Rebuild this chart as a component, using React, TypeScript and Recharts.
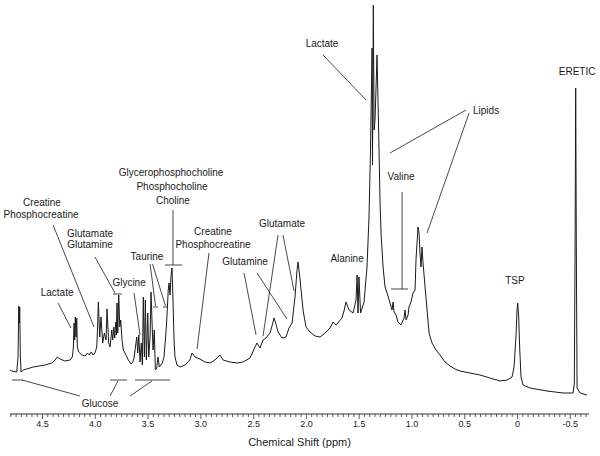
import React from 'react';
import { LineChart, Line, XAxis, YAxis, ReferenceLine, ReferenceDot } from 'recharts';

// Spectrum: [chemical shift (ppm), intensity (a.u.)]
const REGION_WATER_SUGARS: [number, number][] = [
  [4.827, 45], [4.792, 43], [4.744, 42], [4.732, 57], [4.725, 108], [4.72, 91], [4.716, 107], [4.71, 57],
  [4.703, 42], [4.682, 44], [4.587, 47], [4.476, 49], [4.413, 51], [4.381, 54], [4.36, 57], [4.334, 55],
  [4.287, 53], [4.239, 54], [4.218, 57], [4.208, 66], [4.201, 91], [4.195, 74], [4.189, 97], [4.182, 77],
  [4.176, 96], [4.17, 67], [4.157, 62], [4.128, 59], [4.097, 58], [4.075, 61], [4.056, 59], [4.04, 62],
  [4.019, 59], [4.003, 61],
];

const REGION_CREATINE_CHOLINE: [number, number][] = [
  [3.986, 67], [3.977, 91], [3.971, 112], [3.958, 77], [3.946, 97], [3.93, 71], [3.914, 81], [3.898, 74],
  [3.889, 105], [3.873, 71], [3.86, 67], [3.844, 84], [3.835, 74], [3.825, 87], [3.816, 76], [3.806, 92],
  [3.801, 79], [3.794, 111], [3.787, 81], [3.778, 119], [3.768, 87], [3.759, 94], [3.747, 74], [3.734, 64],
  [3.709, 59], [3.687, 54], [3.661, 50], [3.645, 52], [3.633, 56], [3.621, 66], [3.607, 77], [3.598, 61],
  [3.588, 79], [3.576, 52], [3.564, 71], [3.554, 49], [3.545, 117], [3.535, 57], [3.526, 114], [3.516, 54],
  [3.503, 101], [3.494, 57], [3.481, 77], [3.472, 122], [3.462, 91], [3.453, 64], [3.441, 84], [3.431, 44],
  [3.418, 46], [3.406, 57], [3.393, 47], [3.38, 49], [3.365, 51], [3.349, 57], [3.336, 74], [3.327, 87],
  [3.318, 104], [3.309, 124], [3.301, 131], [3.292, 119], [3.282, 139], [3.273, 146], [3.264, 114], [3.254, 74],
  [3.245, 57],
];

const REGION_AMINO_ACIDS: [number, number][] = [
  [3.226, 49], [3.197, 47], [3.15, 49], [3.103, 54], [3.084, 61], [3.055, 57], [3.008, 55], [2.96, 52],
  [2.913, 51], [2.866, 54], [2.818, 59], [2.79, 54], [2.724, 52], [2.657, 51], [2.6, 52], [2.534, 56],
  [2.487, 67], [2.468, 71], [2.439, 66], [2.411, 74], [2.383, 76], [2.345, 81], [2.326, 88], [2.307, 96],
  [2.288, 90], [2.269, 82], [2.231, 76], [2.193, 77], [2.165, 86], [2.136, 91], [2.108, 117], [2.089, 144],
  [2.079, 152], [2.06, 134], [2.032, 104], [2.004, 87], [1.966, 82], [1.918, 78], [1.871, 77], [1.824, 81],
  [1.776, 86], [1.748, 92], [1.719, 89], [1.663, 96], [1.644, 103], [1.625, 112], [1.596, 104], [1.558, 101],
  [1.53, 114], [1.52, 139], [1.511, 101], [1.502, 137], [1.487, 101], [1.454, 112],
];

const REGION_LACTATE_LIPIDS: [number, number][] = [
  [1.426, 147], [1.407, 197], [1.393, 264], [1.378, 366], [1.374, 249], [1.366, 409], [1.359, 284], [1.35, 294],
  [1.331, 359], [1.312, 264], [1.303, 214], [1.293, 181], [1.274, 147], [1.255, 127], [1.236, 121], [1.208, 111],
  [1.189, 104], [1.179, 112], [1.17, 102], [1.151, 99], [1.132, 92], [1.104, 89], [1.075, 96], [1.066, 104],
  [1.056, 94], [1.037, 99], [1.028, 107], [1.009, 112], [0.99, 121], [0.971, 124], [0.962, 154], [0.943, 187],
  [0.933, 181], [0.924, 161], [0.914, 147], [0.905, 167], [0.895, 151], [0.876, 127], [0.857, 104], [0.838, 81],
  [0.81, 71], [0.772, 64], [0.734, 59], [0.687, 52], [0.639, 48], [0.592, 45], [0.545, 43], [0.45, 41],
];

const REGION_REFERENCES: [number, number][] = [
  [0.355, 39], [0.261, 36], [0.166, 33], [0.099, 34], [0.052, 37], [0.033, 47], [0.014, 79], [0.005, 104],
  [-0.002, 111], [-0.011, 97], [-0.021, 64], [-0.033, 37], [-0.052, 29], [-0.118, 26], [-0.279, 23], [-0.431, 21],
  [-0.526, 21], [-0.538, 31], [-0.545, 164], [-0.551, 326], [-0.557, 164], [-0.564, 26], [-0.592, 21], [-0.658, 19],
];

const X_DOMAIN: [number, number] = [-0.677, 4.808];
const Y_DOMAIN: [number, number] = [0, 414];

const MAJOR_TICK_VALUES = [4.5, 4.0, 3.5, 3.0, 2.5, 2.0, 1.5, 1.0, 0.5, 0, -0.5];
const MAJOR_TICK_LABELS = ['4.5', '4.0', '3.5', '3.0', '2.5', '2.0', '1.5', '1.0', '0.5', '0', '-0.5'];
const MINOR_STEP_PER_PPM = 20; // minor ticks every 0.05 ppm
const TICKS: number[] = [];
for (let k = 96; k >= -13; k--) TICKS.push(k / MINOR_STEP_PER_PPM);

// Annotation text: [text, ppm, intensity]
const ANNOTATION_TEXT: [string, number, number][] = [
  ['Creatine', 4.505, 212],
  ['Phosphocreatine', 4.514, 200],
  ['Glutamate', 4.05, 181],
  ['Glutamine', 4.05, 170],
  ['Lactate', 4.362, 122],
  ['Glycine', 3.68, 132],
  ['Taurine', 3.51, 158],
  ['Glycerophosphocholine', 3.282, 242],
  ['Phosphocholine', 3.273, 228],
  ['Choline', 3.264, 214],
  ['Creatine', 2.885, 183],
  ['Phosphocreatine', 2.885, 170],
  ['Glutamine', 2.581, 153],
  ['Glutamate', 2.231, 191],
  ['Lactate', 1.852, 371],
  ['Alanine', 1.615, 156],
  ['Valine', 1.104, 238],
  ['Lipids', 0.298, 304],
  ['TSP', 0.024, 134],
  ['ERETIC', -0.564, 343],
  ['Glucose', 3.955, 11],
];

// Leader lines: [ppm1, intensity1, ppm2, intensity2]
const LEADER_LINES: [number, number, number, number][] = [
  [4.4, 189, 4.012, 87],
  [4.003, 157, 3.813, 121],
  [3.832, 120, 3.747, 120],
  [3.633, 121, 3.576, 79],
  [4.353, 111, 4.23, 86],
  [3.481, 150, 3.429, 108],
  [3.458, 150, 3.335, 108],
  [3.453, 107, 3.406, 107],
  [3.358, 107, 3.311, 107],
  [3.264, 204, 3.264, 149],
  [3.339, 149, 3.178, 149],
  [2.923, 161, 3.036, 65],
  [2.591, 141, 2.477, 79],
  [2.468, 141, 2.184, 95],
  [2.269, 179, 2.411, 78],
  [2.222, 179, 2.117, 123],
  [1.843, 359, 1.435, 314],
  [0.488, 304, 1.208, 261],
  [0.459, 301, 0.857, 181],
  [1.094, 222, 1.094, 125],
  [1.198, 125, 1.037, 125],
  [4.789, 34, 4.685, 34],
  [4.694, 34, 4.145, 18],
  [3.86, 34, 3.699, 34],
  [3.785, 33, 3.86, 18],
  [3.624, 34, 3.292, 34],
  [3.463, 33, 3.671, 18],
];

const SPECTRUM = [
  ...REGION_WATER_SUGARS,
  ...REGION_CREATINE_CHOLINE,
  ...REGION_AMINO_ACIDS,
  ...REGION_LACTATE_LIPIDS,
  ...REGION_REFERENCES,
].map(([ppm, v]) => ({ ppm, v }));

const FONT = '"Liberation Sans", Arial, Helvetica, sans-serif';
const NARROW_FONT = '"Liberation Sans Narrow", "Arial Narrow", "Liberation Sans", sans-serif';
const INK = '#1a1a1a';

function AxisTick(props: any) {
  const { x, y, payload } = props;
  const v = payload.value as number;
  const idx = MAJOR_TICK_VALUES.findIndex((m) => Math.abs(m - v) < 1e-6);
  const major = idx >= 0;
  return (
    <g>
      <line x1={x} x2={x} y1={y} y2={y + (major ? 5 : 3)} stroke="#333" strokeWidth={0.8} />
      {major && (
        <text x={x} y={y + 13} textAnchor="middle" fontSize={9} fontFamily={NARROW_FONT} fill="#222">
          {MAJOR_TICK_LABELS[idx]}
        </text>
      )}
    </g>
  );
}

export default function App() {
  return (
    <div style={{ position: 'absolute', left: 0, top: 0, width: 600, height: 456, background: '#fff' }}>
      <LineChart
        width={600}
        height={456}
        data={SPECTRUM}
        margin={{ top: 0, right: 11, left: 10, bottom: 0 }}
      >
        <XAxis
          dataKey="ppm"
          type="number"
          domain={X_DOMAIN}
          reversed
          allowDataOverflow
          ticks={TICKS}
          interval={0}
          tickSize={0}
          tickMargin={0}
          tickLine={false}
          tick={<AxisTick />}
          axisLine={{ stroke: '#333', strokeWidth: 1 }}
          height={42}
          label={{
            value: 'Chemical Shift (ppm)',
            position: 'insideBottom',
            offset: 10,
            fontSize: 11,
            fill: '#222',
            fontFamily: FONT,
          }}
        />
        <YAxis hide type="number" domain={Y_DOMAIN} allowDataOverflow />
        {LEADER_LINES.map(([x1, y1, x2, y2], i) => (
          <ReferenceLine
            key={'l' + i}
            segment={[
              { x: x1, y: y1 },
              { x: x2, y: y2 },
            ]}
            stroke={INK}
            strokeWidth={0.8}
            ifOverflow="visible"
          />
        ))}
        <Line
          dataKey="v"
          type="linear"
          dot={false}
          activeDot={false}
          stroke={INK}
          strokeWidth={1}
          isAnimationActive={false}
        />
        {ANNOTATION_TEXT.map(([text, x, y], i) => (
          <ReferenceDot
            key={'t' + i}
            x={x}
            y={y}
            r={0}
            fill="none"
            stroke="none"
            ifOverflow="visible"
            label={{ value: text, position: 'center', fontSize: 10, fill: INK, fontFamily: FONT }}
          />
        ))}
      </LineChart>
    </div>
  );
}
